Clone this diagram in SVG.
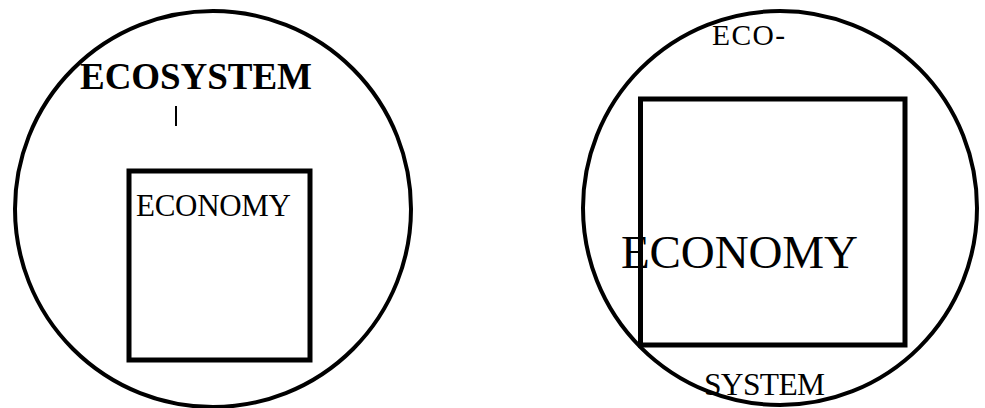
<svg xmlns="http://www.w3.org/2000/svg" width="985" height="408" viewBox="0 0 985 408">
<style>
.shape{fill:none;stroke:#000;stroke-width:4}
.box{fill:none;stroke:#000;stroke-width:5}
.t{font-family:"Liberation Serif","Times New Roman",serif;fill:#000}
</style>
<rect width="985" height="408" fill="#fff"/>
<g id="left-ecosystem">
<circle class="shape" cx="213" cy="209" r="198"/>
<text class="t" x="80" y="89" font-size="37" font-weight="bold" textLength="232">ECOSYSTEM</text>
</g>
<g id="connectors">
<line x1="176" y1="106" x2="176" y2="126" stroke="#000" stroke-width="2"/>
</g>
<g id="left-economy">
<rect class="box" x="129" y="171" width="181" height="189"/>
<text class="t" x="136" y="215.5" font-size="31" textLength="155">ECONOMY</text>
</g>
<g id="right-ecosystem">
<circle class="shape" cx="780" cy="208" r="197"/>
<text class="t" x="712" y="45" font-size="29.5" textLength="73">ECO-</text>
<text class="t" x="704" y="395" font-size="31.5" textLength="121">SYSTEM</text>
</g>
<g id="right-economy">
<rect class="box" x="640.5" y="99" width="264.5" height="246"/>
<text class="t" x="621" y="267.5" font-size="47" textLength="237">ECONOMY</text>
</g>
</svg>
